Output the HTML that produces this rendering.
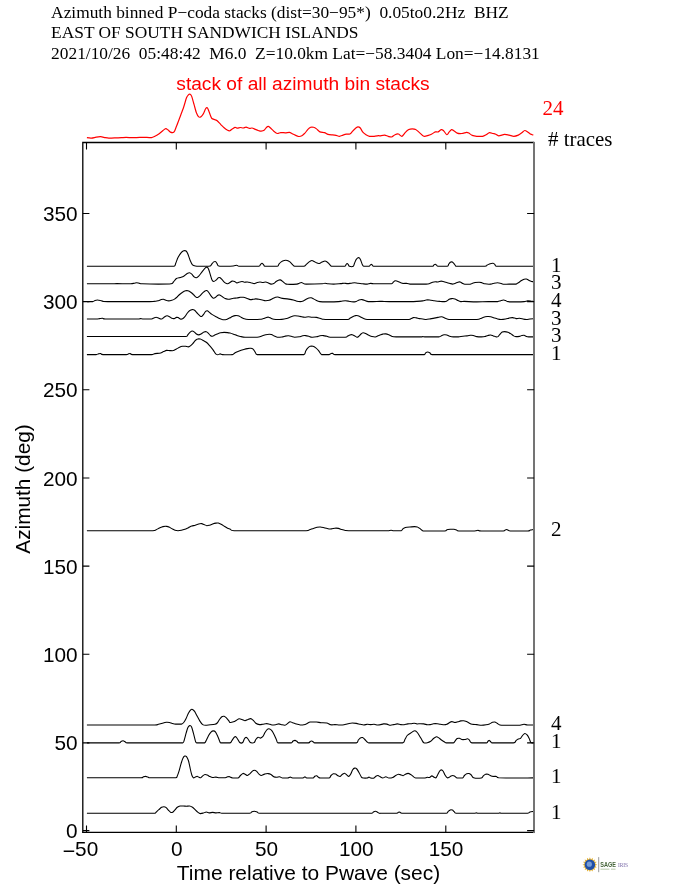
<!DOCTYPE html>
<html><head><meta charset="utf-8"><title>Azimuth binned P-coda stacks</title>
<style>html,body{margin:0;padding:0;background:#fff}body{width:694px;height:895px;position:relative;overflow:hidden;font-family:"Liberation Sans",sans-serif}</style></head>
<body>
<svg width="694" height="895" viewBox="0 0 694 895" style="position:absolute;left:0;top:0;will-change:transform;transform:translateZ(0)">
<rect width="694" height="895" fill="#fff"/>
<g fill="none" stroke="#000" stroke-width="1.08" stroke-linejoin="round" stroke-linecap="butt">
<path d="M86.9,266.3 L174.1,266.3 C175.7,265.9 175.2,264.4 175.7,263.3 C176.2,262.2 177.3,258.9 178.0,257.5 C178.7,256.1 180.3,253.8 181.0,252.9 C181.7,252.0 183.0,251.0 183.7,250.8 C184.4,250.6 185.6,250.6 186.1,251.0 C186.6,251.4 187.4,252.8 187.9,254.0 C188.4,255.2 189.6,259.1 190.2,260.5 C190.8,261.9 191.8,264.2 192.5,264.9 C193.2,265.6 193.6,265.8 195.3,266.0 C197.0,266.2 203.7,266.3 205.6,266.3 C207.5,266.3 209.5,266.3 210.3,266.0 C211.1,265.7 211.5,264.4 211.9,263.9 C212.3,263.4 213.2,262.2 213.7,261.9 C214.2,261.6 215.1,261.3 215.6,261.6 C216.1,261.9 216.8,263.3 217.2,263.9 C217.6,264.5 217.4,265.7 218.8,266.0 C220.2,266.3 225.7,266.3 227.6,266.3 C229.5,266.3 232.1,266.1 233.3,266.0 C234.5,265.9 236.2,265.3 236.8,265.3 C237.4,265.3 237.6,265.9 238.1,266.0 C238.6,266.1 238.1,266.3 240.4,266.3 L258.8,266.3 C260.4,266.1 260.0,265.0 260.4,264.6 C260.8,264.2 261.6,263.3 262.0,263.3 C262.4,263.3 263.3,264.5 263.7,264.9 C264.1,265.3 263.7,266.1 265.0,266.3 L277.3,266.3 C278.9,266.0 278.4,264.8 278.9,264.2 C279.4,263.6 280.5,262.4 281.2,261.9 C281.9,261.4 283.4,260.7 284.2,260.5 C285.0,260.3 286.5,260.3 287.2,260.5 C287.9,260.7 289.2,261.4 289.9,261.9 C290.5,262.4 291.6,263.6 292.2,264.2 C292.8,264.8 293.1,266.0 294.6,266.3 L303.8,266.3 C305.3,266.1 305.5,265.1 306.1,264.6 C306.8,264.1 308.1,262.6 308.8,262.1 C309.5,261.6 311.1,260.6 311.8,260.5 C312.5,260.4 313.5,261.1 314.1,261.4 C314.7,261.7 315.9,262.5 316.5,262.8 C317.1,263.1 318.2,263.5 318.8,263.5 C319.4,263.5 320.4,262.9 321.1,262.6 C321.8,262.3 323.4,261.4 324.1,261.2 C324.8,261.0 325.8,261.1 326.4,261.4 C327.0,261.7 328.1,262.7 328.7,263.3 C329.3,263.9 330.5,265.6 331.0,266.0 C331.5,266.4 331.0,266.3 332.6,266.3 L344.8,266.3 C346.0,266.1 345.7,265.0 346.0,264.6 C346.3,264.2 346.8,263.5 347.1,263.5 C347.4,263.5 348.0,264.2 348.3,264.6 C348.6,265.0 348.8,266.1 349.4,266.3 C350.0,266.5 352.6,266.7 353.3,266.3 C354.0,265.9 354.1,264.2 354.5,263.3 C354.9,262.4 355.6,260.3 356.1,259.6 C356.6,258.9 357.5,257.9 358.0,257.7 C358.5,257.5 359.2,257.8 359.6,258.2 C360.0,258.6 360.6,260.1 361.0,260.9 C361.4,261.7 361.9,263.7 362.3,264.4 C362.7,265.1 362.8,266.1 363.7,266.3 L369.0,266.3 C369.8,266.1 369.9,265.3 370.2,265.1 C370.5,264.9 371.0,264.4 371.3,264.4 C371.6,264.4 372.2,265.1 372.5,265.3 C372.8,265.5 372.5,266.2 373.6,266.3 L382.2,266.3 C383.6,266.3 382.2,266.3 384.6,266.3 L432.6,266.3 C433.9,266.1 433.5,265.2 433.9,264.9 C434.3,264.6 434.9,264.1 435.3,264.2 C435.7,264.3 436.3,265.0 436.7,265.3 C437.1,265.6 436.7,266.2 438.1,266.3 L447.3,266.3 C448.7,266.0 448.3,264.7 448.7,264.2 C449.1,263.7 449.9,262.6 450.3,262.3 C450.7,262.0 451.4,261.8 451.9,261.9 C452.4,262.0 453.3,262.8 453.8,263.3 C454.3,263.8 455.0,265.2 455.4,265.6 C455.8,266.0 455.4,266.2 456.8,266.3 L484.9,266.3 C487.2,266.1 486.5,265.4 487.2,265.1 C487.9,264.8 489.4,263.9 490.2,263.7 C491.0,263.5 492.4,263.2 493.0,263.3 C493.6,263.4 494.4,264.0 494.8,264.4 C495.2,264.8 494.8,266.1 496.4,266.3 L533.3,266.3"/>
<path d="M86.9,283.8 L110.0,283.8 C113.9,283.8 114.2,283.6 116.9,283.6 C119.6,283.6 128.5,283.9 130.7,283.8 C132.9,283.7 133.4,283.3 134.2,283.2 C135.0,283.1 135.8,282.7 136.5,282.7 C137.2,282.7 138.8,283.3 139.5,283.4 C140.2,283.5 139.7,283.7 142.2,283.8 C144.7,283.9 154.6,284.1 158.4,284.1 C162.2,284.1 169.2,284.1 171.1,283.8 C173.0,283.5 172.7,282.7 173.4,282.0 C174.1,281.3 175.5,279.1 176.4,278.5 C177.3,277.9 179.4,277.7 180.3,277.4 C181.2,277.1 182.8,276.7 183.7,276.2 C184.6,275.7 186.4,273.9 187.2,273.5 C188.0,273.1 188.9,272.7 189.5,272.8 C190.1,272.9 191.2,273.7 191.8,274.2 C192.4,274.7 193.5,276.4 194.1,276.9 C194.7,277.4 195.8,277.9 196.4,277.8 C197.0,277.7 197.9,277.0 198.7,276.2 C199.5,275.4 201.3,272.7 202.2,271.6 C203.1,270.5 204.9,268.3 205.6,267.7 C206.3,267.1 206.9,267.0 207.3,267.2 C207.7,267.4 208.2,268.3 208.6,269.3 C209.0,270.3 209.9,273.2 210.3,274.6 C210.7,276.0 211.5,278.8 211.9,279.7 C212.3,280.6 213.2,281.4 213.7,281.5 C214.2,281.6 215.4,280.7 216.0,280.2 C216.6,279.7 217.8,278.1 218.3,277.8 C218.8,277.5 219.7,277.5 220.2,277.8 C220.7,278.1 221.8,279.5 222.5,280.2 C223.2,280.9 224.5,282.4 225.2,282.9 C225.9,283.4 227.0,283.9 227.6,283.8 C228.2,283.7 229.3,282.9 229.9,282.5 C230.5,282.1 231.7,281.2 232.3,281.1 C232.9,281.0 234.0,281.3 234.6,281.5 C235.2,281.7 236.2,282.8 236.9,282.9 C237.6,283.0 239.0,282.2 239.7,282.0 C240.4,281.8 241.4,281.5 242.0,281.5 C242.6,281.5 243.6,282.1 244.3,282.2 C245.0,282.3 246.5,281.9 247.3,282.0 C248.1,282.1 249.8,282.5 250.7,282.7 C251.6,282.9 253.4,283.6 254.2,283.6 C255.0,283.6 256.4,282.7 257.2,282.5 C258.0,282.3 259.3,282.0 260.0,282.0 C260.7,282.0 262.0,282.5 262.7,282.5 C263.4,282.5 265.0,282.0 265.7,282.0 C266.4,282.0 267.3,282.4 268.0,282.7 C268.7,283.0 270.2,284.0 271.0,284.1 C271.8,284.2 273.1,283.7 273.8,283.4 C274.5,283.1 275.5,281.9 276.1,281.5 C276.7,281.1 277.9,280.4 278.4,280.2 C278.9,280.0 279.8,279.8 280.3,279.9 C280.8,280.0 282.0,280.8 282.6,281.3 C283.2,281.8 284.7,283.2 285.3,283.6 C285.9,284.0 286.1,284.2 287.6,284.3 C289.1,284.4 295.4,284.2 296.9,284.1 C298.4,284.0 298.6,283.4 299.2,283.2 C299.8,283.0 300.9,282.4 301.5,282.5 C302.1,282.6 303.2,283.4 303.8,283.6 C304.4,283.8 303.8,284.1 306.1,284.1 C308.5,284.1 319.7,283.9 322.2,283.8 C324.7,283.7 324.2,283.2 325.0,283.2 C325.8,283.2 326.9,283.7 328.0,283.8 C329.1,283.9 332.0,284.1 333.7,284.1 C335.4,284.1 339.3,283.7 340.7,283.6 C342.1,283.5 343.2,283.2 344.1,283.2 C345.0,283.2 346.7,283.6 347.6,283.6 C348.5,283.6 350.1,283.3 351.0,283.2 C351.9,283.1 353.6,282.7 354.5,282.7 C355.4,282.7 356.9,283.1 358.0,283.2 C359.1,283.3 361.4,283.7 362.6,283.8 C363.8,283.9 366.2,284.2 367.2,284.1 C368.2,284.0 369.7,283.4 370.6,283.4 C371.5,283.4 372.9,283.7 374.1,283.8 L379.9,283.8 C381.0,283.8 380.8,283.8 382.3,283.8 L391.5,283.8 C392.9,283.6 392.9,282.4 393.4,282.0 C393.9,281.6 394.7,280.9 395.2,280.8 C395.7,280.7 396.6,281.1 397.3,281.3 C398.0,281.5 399.5,282.2 400.3,282.5 C401.1,282.8 402.3,283.3 403.1,283.4 C403.9,283.5 405.6,283.3 406.5,283.4 C407.4,283.5 407.5,284.0 410.0,284.1 L426.1,284.1 C428.6,284.0 428.8,283.8 429.6,283.6 C430.4,283.4 431.9,282.4 432.6,282.2 C433.3,282.0 434.6,281.8 435.3,281.8 C436.0,281.8 437.3,282.1 438.1,282.0 C438.9,281.9 440.3,281.1 441.1,281.1 C441.9,281.1 443.3,281.6 444.1,281.8 C444.9,282.0 446.5,282.5 447.3,282.7 C448.1,282.9 449.6,283.4 450.3,283.6 C451.0,283.8 452.0,284.1 452.6,284.1 C453.2,284.1 454.2,283.6 454.9,283.4 C455.6,283.2 457.2,282.4 457.9,282.2 C458.6,282.0 459.6,281.8 460.2,282.0 C460.8,282.2 461.9,283.1 462.5,283.4 C463.1,283.7 463.9,284.2 464.8,284.3 L469.5,284.3 C470.5,284.2 471.5,283.6 472.2,283.4 C472.9,283.2 474.1,282.7 475.0,282.5 C475.9,282.3 478.2,282.2 479.1,282.2 C480.0,282.2 481.1,282.5 481.9,282.7 C482.7,282.9 483.8,283.6 484.9,283.8 C486.0,284.0 489.5,284.2 490.7,284.1 C491.9,284.0 493.2,283.4 494.1,283.2 C495.0,283.0 496.8,282.7 497.6,282.7 C498.4,282.7 499.6,283.0 500.3,283.2 C501.0,283.4 502.2,284.2 503.3,284.3 C504.4,284.4 507.4,284.1 509.1,284.1 L516.0,284.1 C517.2,283.9 517.6,283.1 518.3,282.7 C519.0,282.3 520.3,281.3 521.1,280.8 C521.9,280.3 523.4,279.4 524.1,279.2 C524.8,279.0 525.8,278.9 526.4,279.0 C527.0,279.1 528.1,279.9 528.7,280.2 C529.3,280.5 530.4,281.1 531.0,281.3 C531.6,281.5 533.0,281.7 533.3,281.8"/>
<path d="M86.9,301.6 L92.7,301.6 C93.8,301.5 94.4,300.7 95.0,300.5 C95.6,300.3 96.6,300.0 97.3,300.0 C98.0,300.0 99.5,300.3 100.3,300.5 C101.1,300.7 102.1,301.3 103.1,301.4 C104.1,301.5 103.1,301.6 107.7,301.6 L144.6,301.6 C150.6,301.6 152.0,301.5 153.8,301.4 C155.6,301.3 157.4,300.9 158.4,300.7 C159.4,300.5 160.5,299.8 161.2,299.6 C161.9,299.4 162.9,299.2 163.5,299.3 C164.1,299.4 165.1,300.1 165.8,300.3 C166.5,300.5 168.0,300.9 168.8,300.9 C169.6,300.9 171.1,300.5 171.8,300.3 C172.5,300.1 173.8,299.5 174.5,299.1 C175.2,298.7 176.1,297.9 176.8,297.3 C177.5,296.7 178.8,295.2 179.6,294.5 C180.4,293.8 181.8,292.7 182.6,292.2 C183.4,291.7 184.9,291.0 185.6,290.8 C186.3,290.6 187.2,290.6 187.9,290.8 C188.6,291.0 190.0,291.7 190.7,292.2 C191.4,292.7 192.8,293.9 193.4,294.5 C194.1,295.1 195.2,296.4 195.7,296.8 C196.2,297.2 197.1,297.6 197.6,297.5 C198.1,297.4 199.2,296.5 199.9,295.9 C200.6,295.3 202.0,293.5 202.7,292.9 C203.4,292.3 204.5,291.3 205.0,291.0 C205.5,290.7 206.3,290.4 206.8,290.6 C207.3,290.8 208.1,291.5 208.6,292.2 C209.1,292.9 210.4,295.1 211.0,295.9 C211.6,296.7 212.7,298.0 213.3,298.2 C213.9,298.4 215.0,297.7 215.6,297.3 C216.2,296.9 217.4,295.5 217.9,295.2 C218.4,294.9 219.1,294.8 219.7,295.0 C220.3,295.2 221.8,296.3 222.5,296.8 C223.2,297.3 224.5,298.3 225.2,298.6 C225.9,298.9 227.4,299.2 228.0,299.3 C228.6,299.4 229.3,299.2 230.0,299.1 C230.7,299.0 232.6,298.3 233.5,298.2 C234.4,298.1 236.0,298.1 236.9,298.0 C237.8,297.9 239.6,297.4 240.4,297.3 C241.2,297.2 242.6,297.2 243.4,297.3 C244.2,297.4 245.7,297.9 246.6,298.2 C247.5,298.5 249.5,299.5 250.3,299.6 C251.1,299.7 252.4,299.4 253.1,299.3 C253.8,299.2 255.1,298.9 255.8,298.9 C256.5,298.9 258.0,299.2 258.8,299.3 C259.6,299.4 261.4,299.8 262.3,300.0 C263.2,300.2 264.8,300.7 265.7,300.7 C266.6,300.7 268.3,300.6 269.2,300.3 C270.1,300.0 271.9,299.0 272.7,298.6 C273.5,298.2 274.9,297.5 275.6,297.3 C276.3,297.1 277.3,296.9 278.0,297.0 C278.7,297.1 279.9,297.8 280.7,298.0 C281.5,298.2 283.1,298.5 284.2,298.6 C285.3,298.7 287.6,298.9 288.8,299.1 C290.0,299.3 292.3,299.7 293.4,300.0 C294.5,300.3 296.0,301.0 296.9,301.2 C297.8,301.4 299.5,301.6 300.3,301.6 C301.1,301.6 302.5,301.2 303.3,300.9 C304.1,300.6 305.4,299.7 306.1,299.3 C306.8,298.9 308.1,298.2 308.8,298.0 C309.5,297.8 310.6,297.6 311.2,297.7 C311.8,297.8 312.8,298.5 313.5,298.9 C314.2,299.3 315.7,300.1 316.5,300.5 C317.3,300.9 318.6,301.4 319.9,301.6 C321.2,301.8 325.0,301.9 326.8,301.9 L333.7,301.9 C335.5,301.8 339.2,301.6 340.7,301.4 C342.2,301.2 344.3,300.7 345.3,300.7 C346.3,300.7 347.7,301.0 348.7,301.2 C349.7,301.4 352.3,301.9 353.3,301.9 C354.3,301.9 355.5,301.6 356.3,301.4 C357.1,301.2 358.4,300.2 359.1,300.0 C359.8,299.8 361.1,299.5 361.9,299.6 C362.7,299.7 364.1,300.2 364.9,300.5 C365.7,300.8 367.3,301.5 368.3,301.6 L372.9,301.6 C374.4,301.6 378.7,301.4 379.9,301.4 C381.1,301.4 381.1,301.4 382.3,301.4 C383.5,301.4 385.6,301.6 389.2,301.6 L410.0,301.6 C413.6,301.6 415.2,301.5 416.9,301.4 C418.6,301.3 421.5,301.1 422.7,300.9 C423.9,300.7 425.2,300.1 426.1,300.0 C427.0,299.9 428.5,299.9 429.6,300.0 C430.7,300.1 432.9,300.5 434.2,300.7 C435.5,300.9 438.5,301.3 439.9,301.4 C441.3,301.5 443.7,301.7 444.6,301.6 C445.5,301.5 446.3,301.2 446.9,300.9 C447.5,300.6 448.6,299.6 449.2,299.3 C449.8,299.0 451.2,298.7 451.9,298.6 C452.6,298.5 454.1,298.7 454.9,298.9 C455.7,299.1 457.1,300.1 457.9,300.5 C458.7,300.9 459.9,301.5 460.7,301.6 C461.5,301.7 463.0,301.4 464.1,301.4 C465.2,301.4 467.1,301.5 468.8,301.6 C470.5,301.7 474.3,301.9 476.8,301.9 C479.3,301.9 485.7,301.6 488.4,301.6 L497.6,301.6 C499.1,301.5 499.6,301.1 500.3,300.9 C501.0,300.7 502.6,300.1 503.3,300.0 C504.0,299.9 505.0,300.3 505.6,300.5 C506.2,300.7 506.3,301.4 508.0,301.6 C509.7,301.8 516.2,301.9 518.3,301.9 C520.4,301.9 522.9,301.7 524.1,301.6 C525.3,301.5 526.7,301.0 527.6,300.9 C528.5,300.8 530.3,301.1 531.0,301.2 C531.7,301.3 533.0,301.4 533.3,301.4"/>
<path d="M86.9,319.0 L96.1,319.0 C97.8,318.9 98.8,318.7 99.6,318.6 C100.4,318.5 101.8,318.2 102.6,318.3 C103.4,318.4 102.6,318.9 105.4,319.0 L137.6,319.0 C140.4,318.9 139.6,318.6 140.4,318.6 C141.2,318.6 142.0,318.9 143.4,319.0 L151.5,319.0 C152.9,318.9 153.2,318.1 153.8,317.9 C154.4,317.7 155.5,317.2 156.1,317.2 C156.7,317.2 157.8,317.7 158.4,317.9 C159.0,318.1 160.2,318.9 160.7,319.0 C161.2,319.1 162.0,318.9 162.5,318.6 C163.0,318.3 164.2,317.1 164.8,316.7 C165.4,316.3 166.5,315.8 167.1,315.8 C167.7,315.8 168.9,316.4 169.5,316.7 C170.1,317.0 171.2,318.1 171.8,318.3 C172.4,318.5 173.5,318.7 174.1,318.6 C174.7,318.5 175.9,317.5 176.4,317.4 C176.9,317.3 177.7,317.4 178.2,317.6 C178.7,317.8 179.7,318.8 180.3,319.0 C180.9,319.2 182.0,319.1 182.6,318.8 C183.2,318.5 184.3,317.4 184.9,316.7 C185.5,316.0 186.6,314.1 187.2,313.3 C187.8,312.5 188.8,311.2 189.5,310.7 C190.2,310.2 191.6,309.7 192.3,309.6 C193.0,309.5 194.0,309.9 194.6,310.3 C195.2,310.7 196.4,312.3 197.1,313.0 C197.8,313.7 199.3,315.3 199.9,315.8 C200.5,316.3 201.2,316.7 201.7,316.5 C202.2,316.3 203.1,315.1 203.6,314.4 C204.1,313.7 205.1,311.9 205.6,311.4 C206.1,310.9 206.8,310.6 207.3,310.7 C207.8,310.8 208.5,311.6 209.1,312.1 C209.7,312.6 211.0,313.8 211.9,314.4 C212.8,315.0 215.0,316.2 216.0,316.7 C217.0,317.2 218.6,318.2 219.5,318.6 C220.4,319.0 222.0,319.6 222.9,319.7 C223.8,319.8 225.6,319.7 226.4,319.5 C227.2,319.3 228.9,318.1 229.4,317.9 C229.9,317.7 229.6,318.1 230.0,317.9 C230.4,317.7 231.6,316.8 232.3,316.5 C233.0,316.2 234.3,315.7 235.1,315.6 C235.9,315.5 237.3,315.6 238.1,315.8 C238.9,316.0 240.3,316.8 241.1,317.2 C241.9,317.6 243.4,318.5 244.3,318.8 C245.2,319.1 247.1,319.4 248.4,319.5 L254.2,319.5 C255.7,319.5 258.8,319.4 260.0,319.3 C261.2,319.2 262.6,318.8 263.4,318.6 C264.2,318.4 265.7,317.6 266.4,317.4 C267.1,317.2 268.1,317.1 268.7,317.2 C269.3,317.3 270.3,318.0 271.0,318.3 C271.7,318.6 272.7,319.1 273.8,319.3 C274.9,319.5 278.2,319.5 279.6,319.5 C281.0,319.5 283.2,319.2 284.2,319.0 C285.2,318.8 286.7,318.6 287.6,318.3 C288.5,318.0 290.2,317.0 291.1,316.7 C292.0,316.4 293.7,315.9 294.6,315.8 C295.5,315.7 297.1,315.9 298.0,316.0 C298.9,316.1 300.6,316.5 301.5,316.7 C302.4,316.9 304.0,317.2 304.9,317.2 C305.8,317.2 307.5,316.7 308.4,316.7 C309.3,316.7 310.7,317.1 311.8,317.2 C312.9,317.3 315.4,317.3 316.5,317.4 C317.6,317.5 319.0,318.1 319.9,318.3 C320.8,318.5 322.2,319.1 323.4,319.3 C324.6,319.5 326.0,319.5 329.1,319.5 L347.6,319.5 C349.9,319.3 349.2,318.7 349.9,318.3 C350.6,317.9 352.0,317.1 352.7,316.7 C353.4,316.3 354.9,315.7 355.6,315.6 C356.3,315.5 357.3,315.6 358.0,315.8 C358.7,316.0 360.3,316.8 361.0,317.2 C361.7,317.6 362.9,318.3 363.7,318.6 C364.5,318.9 365.1,319.4 367.2,319.5 L379.9,319.5 C381.9,319.5 379.9,319.5 382.3,319.5 L408.8,319.5 C411.1,319.4 410.5,318.8 411.1,318.6 C411.7,318.4 412.7,317.7 413.4,317.6 C414.1,317.5 415.6,317.8 416.4,317.9 C417.2,318.0 418.4,318.5 419.2,318.6 C420.0,318.7 421.8,318.9 422.7,319.0 C423.6,319.1 425.2,319.5 426.1,319.5 C427.0,319.5 428.5,319.2 429.6,319.0 C430.7,318.8 433.0,318.3 434.2,318.1 C435.4,317.9 437.8,317.4 438.8,317.2 C439.8,317.0 441.0,316.6 441.8,316.7 C442.6,316.8 443.9,317.6 444.6,317.9 C445.3,318.2 446.4,318.8 447.3,319.0 C448.2,319.2 447.7,319.4 451.5,319.5 L476.8,319.5 C480.3,319.4 479.4,318.9 480.3,318.6 C481.2,318.3 482.8,317.5 483.7,317.2 C484.6,316.9 486.3,316.6 487.2,316.5 C488.1,316.4 489.8,316.5 490.7,316.7 C491.6,316.9 493.2,317.6 494.1,317.9 C495.0,318.2 496.7,318.8 497.6,319.0 C498.5,319.2 500.0,319.5 501.0,319.5 C502.0,319.5 504.5,319.2 505.6,319.0 C506.7,318.8 508.2,318.3 509.1,318.1 C510.0,317.9 511.7,317.5 512.6,317.6 C513.5,317.7 515.1,318.5 516.0,318.6 C516.9,318.7 518.6,318.2 519.5,318.3 C520.4,318.4 522.0,318.8 522.9,319.0 C523.8,319.2 525.5,319.5 526.4,319.5 C527.3,319.5 529.0,319.1 529.9,319.0 C530.8,318.9 532.9,318.8 533.3,318.8"/>
<path d="M86.9,336.5 L186.1,336.5 C187.9,336.3 187.4,335.3 187.9,334.7 C188.4,334.1 189.6,332.6 190.2,332.1 C190.8,331.6 191.8,331.0 192.3,331.0 C192.8,331.0 193.6,331.5 194.1,331.9 C194.6,332.3 195.8,333.6 196.4,334.0 C197.0,334.4 198.1,334.9 198.7,334.9 C199.3,334.9 200.3,334.4 201.0,334.0 C201.7,333.6 203.3,332.4 204.0,332.1 C204.7,331.8 205.8,331.6 206.3,331.7 C206.8,331.8 207.7,332.6 208.2,333.1 C208.7,333.6 209.8,335.0 210.3,335.4 C210.8,335.8 211.4,336.3 211.9,336.3 C212.4,336.3 213.5,335.7 214.2,335.4 C214.9,335.1 216.4,334.3 217.2,334.0 C218.0,333.7 219.7,333.0 220.6,332.8 C221.5,332.6 223.2,332.4 224.1,332.4 C225.0,332.4 226.8,332.5 227.6,332.6 C228.4,332.7 229.2,332.9 230.0,333.1 C230.8,333.3 232.6,333.9 233.5,334.2 C234.4,334.5 236.0,335.1 236.9,335.4 C237.8,335.7 239.3,336.3 240.4,336.5 C241.5,336.7 243.3,337.1 245.0,337.2 L253.1,337.2 C254.9,337.2 257.6,337.2 258.8,337.0 C260.0,336.8 261.4,336.1 262.3,335.8 C263.2,335.5 264.8,334.9 265.7,334.7 C266.6,334.5 268.4,334.2 269.2,334.2 C270.0,334.2 270.8,334.2 271.5,334.4 C272.2,334.6 273.5,335.7 274.3,336.1 C275.1,336.5 276.3,337.1 277.3,337.2 C278.3,337.3 280.9,337.1 281.9,337.0 C282.9,336.9 284.4,336.3 285.3,336.1 C286.2,335.9 288.0,335.7 288.8,335.8 C289.6,335.9 291.0,336.3 291.8,336.5 C292.6,336.7 293.6,337.2 294.6,337.2 C295.6,337.2 298.2,337.0 299.2,336.8 C300.2,336.6 301.8,336.0 302.6,335.8 C303.4,335.6 304.8,335.5 305.6,335.6 C306.4,335.7 308.0,336.1 308.8,336.3 C309.6,336.5 310.8,337.1 311.8,337.2 C312.8,337.3 315.4,337.0 316.5,336.8 C317.6,336.6 319.0,336.0 319.9,335.8 C320.8,335.6 322.5,335.5 323.4,335.6 C324.3,335.7 325.9,336.1 326.8,336.3 C327.7,336.5 327.9,337.1 330.3,337.2 L345.3,337.2 C347.5,337.1 347.0,336.4 347.6,336.1 C348.2,335.8 349.3,335.1 349.9,334.9 C350.5,334.7 351.6,334.6 352.2,334.7 C352.8,334.8 353.9,335.5 354.5,335.8 C355.1,336.1 356.3,337.1 356.8,337.2 C357.3,337.3 358.1,336.9 358.6,336.5 C359.1,336.1 360.4,334.5 361.0,334.0 C361.6,333.5 362.4,332.9 363.0,332.8 C363.6,332.7 364.9,333.2 365.6,333.5 C366.3,333.8 367.5,334.7 368.3,335.1 C369.1,335.5 370.9,336.3 371.8,336.5 C372.7,336.7 374.4,337.1 375.2,337.0 C376.0,336.9 377.4,336.1 378.0,335.8 C378.6,335.5 379.4,335.2 380.0,335.0 C380.6,334.8 382.0,334.2 382.8,334.1 C383.6,334.0 385.0,333.8 385.8,333.9 C386.6,334.0 388.0,334.5 388.8,334.8 C389.6,335.1 391.1,336.1 392.0,336.4 C392.9,336.7 392.4,336.8 396.1,336.9 L420.3,336.9 C422.7,336.9 421.9,336.6 422.7,336.6 C423.5,336.6 424.0,336.9 426.1,336.9 L438.8,336.9 C440.8,336.8 440.4,336.2 441.1,335.9 C441.8,335.6 443.3,334.9 444.1,334.8 C444.9,334.7 446.2,334.8 446.9,335.0 C447.6,335.2 448.8,336.0 449.6,336.2 C450.4,336.4 452.2,336.8 453.3,336.9 L458.4,336.9 C459.7,336.8 461.9,336.3 463.0,336.2 C464.1,336.1 466.1,336.0 467.1,335.9 C468.1,335.8 469.6,335.4 470.4,335.3 C471.2,335.2 472.6,335.3 473.4,335.5 C474.2,335.7 475.8,336.4 476.8,336.6 C477.8,336.8 480.3,336.9 481.4,336.9 C482.5,336.9 484.1,336.8 484.9,336.6 C485.7,336.4 487.1,335.7 487.9,335.5 C488.7,335.3 490.0,334.9 490.7,335.0 C491.4,335.1 492.7,335.7 493.4,335.9 C494.1,336.1 495.8,336.8 496.4,336.9 C497.0,337.0 497.5,336.9 498.0,336.6 C498.5,336.3 499.4,334.9 499.9,334.3 C500.4,333.7 501.6,332.4 502.2,332.0 C502.8,331.6 503.7,331.6 504.5,331.6 C505.3,331.6 507.2,332.0 508.0,332.3 C508.8,332.6 510.3,333.4 511.0,333.9 C511.7,334.4 513.1,335.5 513.7,335.9 C514.4,336.3 515.2,336.5 516.0,336.6 C516.8,336.7 518.7,336.5 519.5,336.4 C520.3,336.3 521.2,335.6 521.8,335.5 C522.4,335.4 523.5,335.2 524.1,335.3 C524.7,335.4 525.8,336.2 526.4,336.4 C527.0,336.6 527.8,336.8 528.7,336.9 L533.3,336.9"/>
<path d="M86.9,354.6 L96.1,354.6 C97.6,354.5 97.8,354.0 98.4,353.9 C99.0,353.8 100.1,353.5 100.7,353.6 C101.3,353.7 100.7,354.5 103.1,354.6 L126.1,354.6 C128.4,354.5 127.9,354.0 128.4,353.9 C128.9,353.8 129.8,353.5 130.3,353.6 C130.8,353.7 130.3,354.5 132.6,354.6 L151.5,354.6 C153.8,354.5 153.1,354.1 153.8,353.9 C154.5,353.7 156.3,353.5 157.2,353.4 C158.1,353.3 159.9,353.1 160.7,352.9 C161.5,352.7 162.7,351.9 163.5,351.6 C164.3,351.3 165.7,350.5 166.5,350.4 C167.3,350.3 169.0,350.6 169.9,350.6 C170.8,350.6 172.6,350.8 173.4,350.6 C174.2,350.4 175.6,349.4 176.4,349.0 C177.2,348.6 178.8,347.6 179.6,347.2 C180.4,346.8 181.8,346.4 182.6,346.3 C183.4,346.2 184.8,346.2 185.6,346.3 C186.4,346.4 187.7,347.0 188.4,346.9 C189.1,346.8 190.1,346.1 190.7,345.6 C191.3,345.1 192.4,344.0 193.0,343.3 C193.6,342.6 194.7,341.0 195.3,340.5 C195.9,340.0 196.9,339.3 197.6,339.1 C198.2,338.9 199.6,338.9 200.3,339.1 C201.0,339.3 202.5,340.1 203.3,340.5 C204.1,340.9 205.5,341.7 206.3,342.3 C207.1,342.9 208.4,344.3 209.1,345.1 C209.8,345.9 211.2,347.5 211.9,348.3 C212.6,349.1 213.7,350.8 214.2,351.6 C214.7,352.4 215.5,353.7 216.0,354.1 C216.5,354.5 217.4,354.8 217.9,354.8 C218.4,354.8 219.6,353.9 220.2,353.9 C220.8,353.9 221.5,354.5 222.5,354.6 C223.5,354.7 226.3,354.8 227.6,354.8 C228.9,354.8 231.5,354.6 232.2,354.6 C232.8,354.6 232.4,354.8 232.8,354.6 C233.2,354.4 234.3,353.2 235.1,352.7 C235.9,352.2 238.1,351.3 239.2,350.9 C240.3,350.5 242.7,349.8 243.8,349.5 C244.9,349.2 246.4,348.8 247.3,348.6 C248.2,348.4 249.9,348.2 250.7,348.3 C251.5,348.4 252.5,348.7 253.1,349.2 C253.7,349.7 254.9,351.8 255.4,352.5 C255.9,353.2 255.4,354.3 257.2,354.6 L303.8,354.6 C305.6,354.2 305.1,352.2 305.6,351.3 C306.1,350.4 307.3,348.5 307.9,347.9 C308.5,347.2 309.5,346.5 310.2,346.3 C310.9,346.1 312.3,346.1 313.0,346.3 C313.7,346.5 315.0,347.3 315.8,347.9 C316.6,348.5 318.1,350.0 318.8,350.9 C319.5,351.8 320.2,354.1 321.5,354.6 L329.1,354.6 C330.3,354.5 330.5,353.8 331.0,353.6 C331.5,353.4 332.3,353.3 332.8,353.4 C333.3,353.5 332.8,354.4 334.9,354.6 L382.2,354.6 C384.6,354.6 382.2,354.6 384.6,354.6 L424.3,354.6 C425.6,354.4 425.2,353.2 425.6,352.9 C426.0,352.6 427.2,352.0 427.7,352.0 C428.2,352.0 429.2,352.4 429.8,352.7 C430.4,353.0 429.8,354.4 432.1,354.6 L533.3,354.6"/>
<path d="M86.9,530.7 L152.6,530.7 C156.1,530.6 155.2,530.2 156.1,529.8 C157.0,529.4 158.6,528.4 159.5,528.0 C160.4,527.6 162.1,526.8 163.0,526.6 C163.9,526.4 165.7,526.3 166.5,526.4 C167.3,526.5 168.8,527.0 169.5,527.3 C170.2,527.6 171.5,528.5 172.2,528.9 C172.9,529.3 174.2,530.1 175.0,530.3 C175.8,530.5 177.2,530.7 178.0,530.7 C178.8,530.7 180.5,530.5 181.4,530.3 C182.3,530.1 184.0,529.6 184.9,529.3 C185.8,529.0 187.5,528.1 188.4,527.7 C189.3,527.3 190.9,526.4 191.8,526.1 C192.7,525.8 194.4,525.5 195.3,525.2 C196.2,524.9 197.9,524.2 198.7,524.0 C199.5,523.8 200.8,523.5 201.5,523.6 C202.2,523.7 203.3,524.2 204.0,524.5 C204.7,524.8 206.1,525.6 206.8,525.7 C207.5,525.8 208.8,525.4 209.6,525.2 C210.4,525.0 211.8,524.3 212.6,524.0 C213.4,523.7 215.3,523.2 216.0,523.1 C216.7,523.0 217.6,522.9 218.3,523.1 C219.0,523.3 220.3,523.9 221.1,524.3 C221.9,524.7 223.3,525.6 224.1,526.1 C224.9,526.6 226.8,527.8 227.6,528.2 C228.4,528.6 229.2,528.8 230.0,529.1 C230.8,529.4 230.0,530.5 234.1,530.7 L306.1,530.7 C309.5,530.6 308.5,530.1 309.5,529.8 C310.5,529.5 312.5,528.7 313.5,528.4 C314.5,528.1 316.2,527.5 317.1,527.3 C318.0,527.1 319.5,526.9 320.4,527.0 C321.3,527.1 323.1,527.5 324.1,527.7 C325.1,527.9 327.1,528.5 328.0,528.7 C328.9,528.9 330.5,529.0 331.4,528.9 C332.3,528.8 334.0,528.3 334.9,528.2 C335.8,528.1 337.5,528.2 338.4,528.4 C339.3,528.6 340.9,529.3 341.8,529.6 C342.7,529.9 344.4,530.4 345.3,530.5 C346.2,530.6 345.3,530.7 348.7,530.7 L382.2,530.7 L388.1,530.7 C389.3,530.6 390.4,530.3 391.1,530.3 C391.8,530.3 392.5,530.6 393.8,530.7 L401.2,530.7 C402.4,530.4 402.6,529.1 403.1,528.7 C403.6,528.3 404.5,527.7 405.4,527.5 C406.3,527.3 408.8,527.1 410.0,527.0 C411.2,526.9 413.7,526.6 414.6,526.6 C415.5,526.6 416.6,526.8 417.3,527.0 C418.0,527.2 419.1,528.0 419.7,528.4 C420.3,528.8 421.5,530.0 422.0,530.3 C422.5,530.6 422.0,530.9 423.3,531.0 L444.6,531.0 C446.9,530.8 446.2,530.0 446.9,529.8 C447.6,529.6 449.4,529.4 450.3,529.3 C451.2,529.2 453.0,529.2 453.8,529.3 C454.6,529.4 455.9,529.8 456.5,530.0 C457.1,530.2 456.5,530.9 458.8,531.0 L474.5,531.0 C477.0,530.9 477.1,530.3 478.0,530.3 C478.9,530.3 478.1,530.9 481.4,531.0 L503.3,531.0 C505.2,530.9 504.7,530.2 505.2,530.0 C505.7,529.8 506.4,529.5 506.8,529.6 C507.2,529.7 508.1,530.3 508.6,530.5 C509.1,530.7 508.6,530.9 510.3,531.0 L527.6,531.0 C530.2,530.9 529.6,530.2 530.3,530.0 C531.0,529.8 532.9,529.7 533.3,529.6"/>
<path d="M86.9,725.0 L154.9,725.0 C158.4,724.9 157.4,724.5 158.4,724.3 C159.4,724.1 161.4,723.5 162.5,723.2 C163.6,722.9 165.6,722.4 166.5,722.3 C167.4,722.2 168.8,722.4 169.5,722.5 C170.2,722.6 171.4,723.2 172.2,723.4 C173.0,723.6 174.5,724.0 175.7,724.1 L181.4,724.1 C182.4,723.9 183.1,723.2 183.7,722.5 C184.3,721.8 185.5,719.6 186.1,718.4 C186.7,717.2 187.8,714.4 188.4,713.3 C189.0,712.2 190.2,710.3 190.7,709.8 C191.2,709.3 192.0,709.2 192.5,709.4 C193.0,709.6 194.0,710.5 194.6,711.4 C195.2,712.3 196.4,714.7 197.1,716.0 C197.8,717.3 199.2,720.0 199.9,721.1 C200.6,722.2 202.0,724.1 202.7,724.6 C203.4,725.1 204.6,725.3 205.6,725.3 C206.6,725.3 209.1,724.9 210.3,724.8 C211.5,724.7 214.0,724.5 214.9,724.3 C215.8,724.1 216.6,723.6 217.2,723.0 C217.8,722.4 218.9,720.3 219.5,719.5 C220.1,718.7 221.2,717.1 221.8,716.7 C222.4,716.3 223.5,716.1 224.1,716.3 C224.7,716.5 225.8,717.3 226.4,717.9 C227.0,718.5 228.2,720.1 228.7,720.7 C229.2,721.3 229.4,722.4 230.0,722.5 C230.6,722.6 232.7,722.1 233.5,721.8 C234.3,721.5 235.8,720.6 236.5,720.2 C237.2,719.8 238.5,718.9 239.2,718.8 C239.9,718.7 241.2,719.3 242.0,719.5 C242.8,719.7 244.2,720.7 245.0,720.7 C245.8,720.7 247.3,719.8 248.0,719.5 C248.7,719.2 250.0,718.5 250.7,718.6 C251.4,718.7 252.4,719.6 253.1,720.2 C253.8,720.8 255.0,722.6 255.8,723.2 C256.6,723.8 258.6,724.5 259.5,724.6 C260.4,724.7 261.9,724.4 262.7,724.3 C263.5,724.2 264.9,723.8 265.7,723.7 C266.5,723.6 267.9,723.7 268.7,723.9 C269.5,724.1 271.1,724.9 272.0,725.0 C272.9,725.1 274.7,724.9 275.6,724.8 C276.5,724.7 278.1,723.9 278.9,723.9 C279.7,723.9 281.1,724.6 281.9,724.8 C282.7,725.0 284.2,725.4 284.9,725.3 C285.6,725.2 286.6,724.4 287.2,723.9 C287.8,723.4 289.2,722.0 289.9,721.8 C290.6,721.6 291.9,722.4 292.7,722.7 C293.5,723.0 295.4,723.8 296.4,724.1 C297.4,724.4 299.3,724.9 300.3,725.0 C301.3,725.1 302.9,725.0 303.8,724.8 C304.7,724.6 306.4,723.8 307.2,723.4 C308.0,723.0 309.0,722.2 310.2,722.0 L316.5,722.0 C317.9,722.1 319.8,722.6 321.1,722.7 C322.4,722.8 325.5,722.7 326.8,723.0 C328.1,723.3 329.9,724.6 331.0,724.8 C332.1,725.0 333.8,724.6 334.9,724.6 C336.0,724.6 338.3,725.0 339.5,725.0 C340.7,725.0 343.0,725.0 344.1,724.8 C345.2,724.6 346.9,723.9 348.0,723.7 C349.1,723.5 351.1,723.0 352.2,723.0 C353.3,723.0 355.2,723.2 356.3,723.4 C357.4,723.6 359.3,724.1 360.3,724.3 C361.3,724.5 362.8,725.0 363.7,725.0 C364.6,725.0 366.3,724.4 367.2,724.3 C368.1,724.2 369.7,724.6 370.6,724.6 C371.5,724.6 373.2,724.2 374.1,724.3 C375.0,724.4 376.8,724.9 377.6,725.0 C378.4,725.1 379.2,724.9 380.0,724.8 C380.8,724.7 382.6,724.0 383.5,723.9 C384.4,723.8 386.0,723.9 386.9,724.1 C387.8,724.3 389.5,725.2 390.4,725.3 C391.3,725.4 392.9,724.8 393.8,724.6 C394.7,724.4 396.4,723.9 397.3,723.9 C398.2,723.9 399.8,724.5 400.7,724.6 C401.6,724.7 403.3,724.9 404.2,724.8 C405.1,724.7 406.8,724.0 407.7,723.9 C408.6,723.8 410.3,723.8 411.1,723.7 C411.9,723.6 413.3,723.2 414.1,723.2 C414.9,723.2 416.1,723.8 416.9,723.9 C417.7,724.0 419.4,723.7 420.3,723.7 C421.2,723.7 422.9,723.8 423.8,723.9 C424.7,724.0 426.5,724.7 427.3,724.8 C428.1,724.9 429.5,724.7 430.3,724.6 C431.1,724.5 432.6,723.8 433.5,723.7 C434.4,723.6 436.3,723.6 437.2,723.7 C438.1,723.8 439.5,724.2 440.4,724.3 C441.3,724.4 443.3,724.8 444.1,724.8 C444.9,724.8 446.2,724.6 446.9,724.3 C447.6,724.0 449.0,722.9 449.6,722.5 C450.2,722.1 451.2,721.6 451.9,721.6 C452.6,721.6 454.1,722.5 454.9,722.5 C455.7,722.5 457.1,722.0 457.9,721.8 C458.7,721.6 460.0,721.0 460.7,720.9 C461.4,720.8 462.7,720.6 463.5,720.7 C464.3,720.8 465.7,721.3 466.5,721.6 C467.3,721.9 468.8,722.8 469.5,723.2 C470.2,723.6 471.3,724.1 472.2,724.3 C473.1,724.5 475.6,724.5 476.8,724.6 C478.0,724.7 480.2,725.3 481.4,725.3 C482.6,725.3 485.0,725.0 486.1,724.8 C487.2,724.6 488.7,724.2 489.5,723.9 C490.3,723.6 491.8,722.5 492.5,722.3 C493.2,722.1 494.2,721.9 494.8,722.0 C495.4,722.1 496.4,722.8 497.1,723.2 C497.8,723.6 498.9,724.7 499.9,725.0 C500.9,725.3 502.1,725.3 504.5,725.3 L518.3,725.3 C520.5,725.2 521.0,724.9 521.8,724.8 C522.6,724.7 523.3,724.3 524.1,724.3 C524.9,724.3 526.4,724.9 527.6,725.0 L533.3,725.0"/>
<path d="M86.9,742.9 L119.2,742.9 C121.0,742.7 120.5,741.8 121.0,741.5 C121.5,741.2 122.6,740.8 123.1,740.8 C123.6,740.8 124.6,741.5 125.2,741.8 C125.8,742.1 125.2,742.8 127.5,742.9 L182.6,742.9 C184.2,742.5 183.7,741.5 184.2,740.2 C184.7,738.9 185.6,734.9 186.1,733.2 C186.6,731.5 187.4,728.5 187.9,727.5 C188.4,726.5 189.2,725.7 189.7,725.6 C190.2,725.5 191.1,726.0 191.6,727.0 C192.1,728.0 192.9,731.4 193.4,733.2 C193.9,735.0 194.9,739.3 195.3,740.6 C195.7,741.9 195.5,742.6 196.7,742.9 L204.5,742.9 C205.7,742.5 205.8,741.2 206.3,740.2 C206.8,739.2 208.0,736.6 208.6,735.5 C209.2,734.4 210.4,732.7 211.0,732.1 C211.6,731.5 212.7,730.9 213.3,730.9 C213.9,730.9 215.0,731.3 215.6,732.1 C216.2,732.9 217.3,735.4 217.9,736.7 C218.5,738.0 219.5,741.0 219.9,741.8 C220.3,742.6 219.9,742.8 221.1,742.9 L229.9,742.9 C231.3,742.6 231.3,741.5 231.8,740.8 C232.3,740.1 233.6,737.9 234.1,737.4 C234.6,736.9 235.3,736.5 235.8,736.7 C236.3,736.9 237.1,738.2 237.6,739.0 C238.1,739.8 239.0,742.0 239.7,742.5 C240.4,743.0 242.1,743.0 242.7,742.5 C243.3,742.0 243.9,739.7 244.3,739.0 C244.7,738.3 245.6,737.4 246.1,737.4 C246.6,737.4 247.5,738.3 248.0,739.0 C248.5,739.7 249.5,742.0 250.3,742.5 C251.1,743.0 253.5,742.9 254.2,742.5 C254.9,742.1 255.3,740.2 255.8,739.5 C256.3,738.8 257.5,737.4 258.1,737.2 C258.7,737.0 259.8,738.2 260.4,738.1 C261.0,738.0 262.1,737.4 262.7,736.7 C263.3,736.0 264.4,733.5 265.0,732.5 C265.6,731.5 266.7,729.8 267.3,729.3 C267.9,728.8 269.1,728.7 269.7,728.9 C270.3,729.1 271.4,730.1 272.0,730.9 C272.6,731.7 273.7,733.7 274.3,734.9 C274.9,736.1 276.1,739.2 276.6,740.2 C277.1,741.2 276.6,742.5 278.0,742.9 L291.1,742.9 C292.7,742.7 292.2,741.6 292.7,741.3 C293.2,741.0 294.5,740.4 295.0,740.4 C295.5,740.4 296.4,741.0 296.9,741.3 C297.4,741.6 297.2,742.7 298.7,742.9 L308.4,742.9 C309.9,742.7 309.8,741.7 310.2,741.5 C310.6,741.3 311.4,741.0 311.8,741.1 C312.2,741.2 313.1,741.8 313.5,742.0 C313.9,742.2 313.5,742.8 314.8,742.9 L356.3,742.9 C358.2,742.5 357.7,740.9 358.2,740.2 C358.7,739.6 359.7,738.2 360.3,737.9 C360.9,737.6 362.0,737.4 362.6,737.6 C363.2,737.8 364.3,738.9 364.9,739.5 C365.5,740.1 366.7,741.6 367.2,742.0 C367.7,742.4 367.2,742.8 368.8,742.9 L379.9,742.9 C381.7,742.9 379.9,742.9 382.3,742.9 L402.6,742.9 C404.9,742.5 404.3,740.5 404.9,739.5 C405.5,738.5 406.5,736.3 407.2,735.5 C407.9,734.7 409.3,734.0 410.0,733.5 C410.7,733.0 412.1,732.0 412.7,731.6 C413.3,731.2 414.4,730.6 415.0,730.7 C415.6,730.8 416.7,731.8 417.3,732.5 C417.9,733.2 419.1,735.2 419.7,736.2 C420.3,737.2 421.5,739.4 422.0,740.2 C422.5,741.0 423.1,742.4 423.8,742.7 C424.5,743.0 426.4,742.9 427.3,742.7 C428.2,742.5 429.9,741.8 430.7,741.3 C431.5,740.8 432.7,739.1 433.5,738.5 C434.3,737.9 435.8,736.8 436.5,736.7 C437.2,736.6 438.1,737.4 438.8,737.9 C439.5,738.4 441.0,739.7 441.8,740.2 C442.6,740.7 444.0,741.6 444.6,742.0 C445.2,742.4 445.3,742.8 446.4,742.9 L453.3,742.9 C454.4,742.6 454.7,741.4 455.2,740.8 C455.7,740.2 456.6,738.8 457.2,738.5 C457.8,738.2 458.9,738.2 459.5,738.3 C460.1,738.4 461.1,739.3 461.8,739.5 C462.5,739.7 464.0,739.6 464.8,739.5 C465.6,739.4 467.0,738.7 467.6,738.8 C468.2,738.9 469.0,739.7 469.5,740.2 C470.0,740.7 469.6,742.5 471.8,742.9 L486.5,742.9 C487.9,742.7 487.5,741.6 487.9,741.3 C488.3,741.0 488.9,740.3 489.3,740.4 C489.7,740.5 490.3,741.5 490.7,741.8 C491.1,742.1 490.7,742.8 492.0,742.9 L513.3,742.9 C516.0,742.6 515.4,741.1 516.0,740.6 C516.6,740.1 517.7,739.3 518.3,739.0 C518.9,738.7 520.1,738.8 520.6,738.3 C521.1,737.8 522.0,736.1 522.5,735.5 C523.0,734.9 524.2,733.6 524.8,733.5 C525.4,733.4 526.5,734.3 527.1,734.9 C527.7,735.6 528.7,737.5 529.2,738.5 C529.7,739.5 530.3,741.9 530.8,742.5 C531.3,743.1 533.0,742.8 533.3,742.9"/>
<path d="M86.9,777.8 L141.1,777.8 C143.4,777.7 142.8,777.0 143.4,776.8 C144.0,776.6 145.1,776.4 145.7,776.4 C146.3,776.4 147.4,776.9 148.0,777.1 C148.6,777.3 148.0,777.7 150.3,777.8 L175.7,777.8 C177.3,777.6 176.9,776.8 177.3,775.9 C177.7,775.0 178.6,772.4 179.1,770.8 C179.6,769.2 180.5,765.5 181.0,763.9 C181.5,762.3 182.3,759.4 182.8,758.4 C183.3,757.4 184.2,756.3 184.7,756.1 C185.2,755.9 186.0,756.0 186.5,756.6 C187.0,757.2 187.9,759.0 188.4,760.5 C188.9,762.0 189.8,766.6 190.2,768.5 C190.6,770.4 191.4,773.8 191.8,775.0 C192.2,776.2 192.9,777.5 193.4,777.8 C193.9,778.1 194.8,777.3 195.3,777.1 C195.8,776.9 196.6,776.2 197.1,776.2 C197.6,776.2 198.5,777.1 199.0,777.3 C199.5,777.5 200.3,778.0 200.8,777.8 C201.3,777.6 202.2,776.3 202.7,775.9 C203.2,775.5 204.4,774.6 205.0,774.5 C205.6,774.4 206.7,774.8 207.3,775.0 C207.9,775.2 208.9,776.1 209.6,776.4 C210.3,776.7 211.8,777.4 212.6,777.5 C213.4,777.6 215.1,777.1 216.0,777.1 C216.9,777.1 218.3,777.7 219.5,777.8 L225.2,777.8 C226.3,777.7 227.1,777.0 227.6,776.8 C228.1,776.6 229.1,776.6 229.4,776.6 C229.7,776.6 229.6,776.9 230.0,777.1 C230.4,777.3 231.7,777.9 232.8,778.0 L238.1,778.0 C239.1,777.7 239.8,776.1 240.4,775.5 C241.0,774.9 242.3,773.6 242.9,773.4 C243.5,773.2 244.6,774.0 245.2,774.3 C245.8,774.6 246.9,775.6 247.5,775.5 C248.1,775.4 249.2,774.3 249.8,773.8 C250.4,773.3 251.5,771.8 252.1,771.3 C252.7,770.8 253.8,770.2 254.4,770.2 C255.0,770.2 256.1,770.8 256.7,771.3 C257.3,771.8 258.4,773.6 259.0,774.1 C259.6,774.6 260.7,775.5 261.4,775.5 C262.1,775.5 263.7,774.3 264.6,774.1 C265.5,773.9 267.2,773.5 268.0,773.6 C268.8,773.7 270.2,774.1 271.0,774.5 C271.8,774.9 273.1,776.4 273.8,776.8 C274.5,777.2 275.8,777.3 276.6,777.3 C277.4,777.3 278.8,776.7 279.6,776.8 C280.4,776.9 281.6,777.8 282.6,778.0 L287.6,778.0 C288.6,777.9 289.7,777.1 290.4,777.1 C291.1,777.1 291.1,777.9 292.7,778.0 L302.6,778.0 C304.2,777.8 304.4,776.8 304.9,776.8 C305.4,776.8 305.7,777.8 306.8,778.0 L313.0,778.0 C314.0,777.8 314.3,776.5 314.8,776.2 C315.3,775.9 316.2,775.6 316.7,775.7 C317.2,775.8 318.0,777.0 318.5,777.3 C319.0,777.6 319.0,777.9 320.4,778.0 L329.1,778.0 C330.5,777.7 330.5,776.0 331.0,775.5 C331.5,775.0 332.7,774.0 333.3,773.8 C333.9,773.6 335.0,773.9 335.6,774.1 C336.2,774.3 337.3,775.4 337.9,775.7 C338.5,776.0 339.6,776.6 340.2,776.4 C340.8,776.2 341.9,774.7 342.5,774.3 C343.1,773.9 344.1,773.1 344.6,773.2 C345.1,773.3 346.2,774.4 346.7,774.8 C347.2,775.2 348.2,776.5 348.7,776.4 C349.2,776.3 350.1,775.2 350.6,774.3 C351.1,773.4 352.2,770.5 352.7,769.7 C353.2,768.9 354.2,768.2 354.7,768.1 C355.2,768.0 356.2,768.4 356.8,769.0 C357.4,769.6 358.5,771.6 359.1,772.7 C359.7,773.8 360.9,776.4 361.4,777.1 C361.9,777.8 362.5,777.9 363.3,778.0 C364.1,778.1 366.5,778.1 367.2,778.0 C367.9,777.9 368.6,777.1 369.0,777.1 C369.4,777.1 369.9,777.9 370.6,778.0 C371.3,778.1 373.4,778.2 374.1,778.0 C374.8,777.8 375.4,776.5 375.9,776.2 C376.4,775.9 377.5,775.4 378.0,775.5 C378.5,775.6 379.3,776.3 379.9,776.6 C380.5,776.9 382.0,778.0 382.8,778.0 C383.6,778.0 385.0,776.8 385.8,776.8 C386.6,776.8 387.9,777.9 388.8,778.0 C389.7,778.1 391.8,777.8 392.7,777.5 C393.6,777.2 395.0,775.9 395.7,775.5 C396.4,775.1 397.7,774.4 398.4,774.3 C399.1,774.2 400.6,774.8 401.2,775.0 C401.8,775.2 402.6,775.8 403.1,775.7 C403.6,775.6 404.8,774.6 405.4,774.3 C406.0,774.0 407.4,773.4 408.1,773.4 C408.8,773.4 410.0,774.1 410.7,774.5 C411.4,774.9 412.8,776.1 413.4,776.6 C414.0,777.1 414.2,777.8 415.7,778.0 L425.0,778.0 C426.5,777.9 426.7,777.4 427.3,777.3 C427.9,777.2 429.0,777.7 429.6,777.5 C430.2,777.3 431.3,775.9 431.9,775.9 C432.5,775.9 433.7,777.1 434.2,777.3 C434.7,777.5 435.6,778.1 436.0,777.8 C436.4,777.5 437.1,775.8 437.6,775.0 C438.1,774.2 439.0,772.0 439.5,771.3 C440.0,770.6 440.8,769.9 441.3,769.9 C441.8,769.9 442.7,770.6 443.2,771.3 C443.7,772.0 444.5,774.2 445.0,775.0 C445.5,775.8 446.8,777.5 447.3,777.8 C447.8,778.1 448.7,777.5 449.2,777.3 C449.7,777.1 450.5,776.1 451.0,775.9 C451.5,775.7 452.4,775.5 452.9,775.5 C453.4,775.5 454.1,775.9 454.7,776.2 C455.3,776.5 456.2,777.8 457.2,778.0 L462.5,778.0 C463.4,777.7 463.9,776.0 464.4,775.5 C464.9,775.0 466.1,774.0 466.7,773.8 C467.3,773.6 468.4,773.4 469.0,773.6 C469.6,773.8 470.7,774.5 471.3,775.0 C471.9,775.5 472.3,777.4 473.6,777.8 C474.9,778.2 480.1,778.2 481.4,778.0 C482.7,777.8 482.8,776.4 483.3,775.9 C483.8,775.4 485.0,774.5 485.6,774.3 C486.2,774.1 487.2,774.1 487.9,774.3 C488.6,774.5 490.0,775.4 490.7,775.7 C491.4,776.0 492.7,776.3 493.4,776.4 C494.1,776.5 495.7,776.2 496.4,776.4 C497.1,776.6 496.4,777.6 498.7,777.8 C502.8,778.0 523.1,778.0 527.6,778.0 C532.1,778.0 532.6,777.8 533.3,777.8"/>
<path d="M86.9,813.3 L153.8,813.3 C156.1,813.2 155.4,812.7 156.1,812.2 C156.8,811.7 158.1,810.3 158.8,809.7 C159.5,809.1 160.9,807.7 161.6,807.3 C162.3,806.9 163.3,806.7 163.9,806.7 C164.5,806.7 165.6,807.1 166.2,807.6 C166.8,808.1 167.9,809.7 168.5,810.3 C169.1,810.9 170.3,812.2 170.8,812.4 C171.3,812.6 172.2,812.5 172.7,812.2 C173.2,811.9 174.4,810.5 175.0,809.9 C175.6,809.3 176.6,807.8 177.3,807.3 C178.0,806.8 179.3,806.2 180.1,806.0 C180.9,805.8 182.5,806.0 183.3,806.0 C184.1,806.0 185.7,806.2 186.5,806.2 C187.3,806.2 188.7,805.9 189.5,806.0 C190.3,806.1 191.7,806.8 192.5,807.3 C193.3,807.8 194.6,809.2 195.3,809.9 C196.0,810.6 197.3,811.9 198.0,812.4 C198.7,812.9 199.6,813.5 200.3,813.6 C201.0,813.7 202.5,813.3 203.3,813.1 C204.1,812.9 205.5,812.0 206.3,812.0 C207.1,812.0 208.3,812.8 209.1,812.9 C209.9,813.0 211.7,812.4 212.6,812.4 C213.5,812.4 215.1,812.9 216.0,812.9 C216.9,812.9 218.7,812.5 219.5,812.6 C220.3,812.7 220.4,813.2 221.8,813.3 L229.9,813.3 L249.6,813.3 C251.9,813.1 251.3,812.0 251.9,811.7 C252.5,811.4 253.5,811.3 254.2,811.3 C254.9,811.3 256.4,811.7 257.2,812.0 C258.0,812.3 257.2,813.1 260.0,813.3 L371.8,813.3 C373.4,813.1 372.9,812.3 373.4,812.0 C373.9,811.7 375.0,811.3 375.5,811.3 C376.0,811.3 377.1,811.9 377.6,812.2 C378.1,812.5 378.8,813.2 379.4,813.3 C380.0,813.4 380.1,813.3 382.3,813.3 L396.6,813.3 C398.4,813.2 397.9,812.3 398.4,812.2 C398.9,812.1 399.6,812.1 400.1,812.2 C400.6,812.3 400.1,813.2 401.9,813.3 L446.4,813.3 C448.2,813.0 447.7,811.7 448.2,811.3 C448.7,810.9 449.8,810.1 450.3,809.9 C450.8,809.7 451.9,809.9 452.4,810.1 C452.9,810.3 453.7,811.3 454.2,811.7 C454.7,812.1 454.2,813.1 456.1,813.3 L473.4,813.3 C476.0,813.2 475.7,812.9 476.4,812.9 C477.1,812.9 476.4,813.2 479.1,813.3 L497.6,813.3 C499.9,813.2 499.3,812.9 499.9,812.9 C500.5,812.9 499.9,813.2 502.2,813.3 L527.6,813.3 C529.9,813.1 529.3,812.2 529.9,812.0 C530.5,811.8 531.7,811.5 532.2,811.5 C532.7,811.5 533.6,811.7 533.8,811.7"/>
</g>
<path d="M86.9,137.7 C87.5,137.8 90.3,138.2 91.5,138.1 C92.7,138.0 94.9,137.4 96.1,137.2 C97.3,137.0 99.5,136.6 100.7,136.7 C101.9,136.8 104.3,137.5 105.4,137.7 C106.5,137.9 107.6,138.1 108.8,138.1 C110.0,138.1 112.9,138.0 114.6,137.9 C116.3,137.8 120.0,137.8 121.5,137.7 C123.0,137.6 124.6,137.4 126.1,137.4 C127.6,137.4 131.2,137.7 133.0,137.7 C134.8,137.7 138.1,137.4 139.9,137.4 L146.9,137.4 C148.4,137.4 150.5,137.8 151.5,137.7 C152.5,137.6 153.9,136.8 154.9,136.3 C155.9,135.8 158.4,134.3 159.5,133.5 C160.6,132.7 162.2,131.1 163.0,130.5 C163.8,129.9 165.1,128.8 165.8,128.7 C166.5,128.6 167.5,129.7 168.1,130.1 C168.7,130.5 169.8,131.8 170.4,132.1 C171.0,132.4 172.2,132.7 172.7,132.6 C173.2,132.5 174.0,132.1 174.5,131.2 C175.0,130.3 176.0,127.3 176.8,125.4 C177.6,123.4 179.4,118.6 180.3,116.2 C181.2,113.8 182.9,109.4 183.7,107.0 C184.5,104.6 185.9,99.4 186.5,97.8 C187.1,96.2 187.9,95.3 188.4,94.8 C188.9,94.3 189.8,94.1 190.2,94.3 C190.6,94.5 191.3,95.2 191.8,96.6 C192.3,98.0 193.5,102.6 194.1,104.7 C194.7,106.8 195.8,111.2 196.4,112.8 C197.0,114.4 198.1,116.4 198.7,116.9 C199.3,117.4 200.4,117.1 201.0,116.7 C201.6,116.3 202.7,114.9 203.3,113.9 C203.9,112.9 205.1,109.6 205.6,108.8 C206.1,108.0 206.9,107.5 207.3,107.7 C207.7,107.9 208.2,109.5 208.6,110.5 C209.0,111.5 209.9,114.1 210.3,115.1 C210.7,116.1 211.3,117.9 211.9,118.5 C212.5,119.1 214.2,119.4 214.9,119.7 C215.6,120.0 216.5,120.2 217.2,120.8 C217.9,121.4 219.7,123.4 220.6,124.3 C221.5,125.2 223.2,127.0 224.1,127.8 C225.0,128.6 226.8,129.9 227.6,130.3 C228.4,130.7 229.4,130.9 230.0,130.7 C230.6,130.5 231.6,129.3 232.3,128.9 C233.0,128.5 234.4,127.4 235.1,127.3 C235.8,127.2 236.7,128.2 237.4,128.2 C238.1,128.2 239.6,127.5 240.4,127.5 C241.2,127.5 242.7,128.1 243.4,128.0 C244.1,127.9 245.3,127.0 246.1,127.1 C246.9,127.2 248.8,128.3 249.6,128.4 C250.4,128.5 251.1,127.9 251.9,128.0 C252.7,128.1 254.5,129.0 255.4,129.4 C256.3,129.8 258.1,130.5 258.8,130.7 C259.5,130.9 260.4,131.3 261.1,131.2 C261.8,131.1 263.4,130.8 264.1,130.3 C264.8,129.8 265.9,128.0 266.4,127.5 C266.9,127.0 267.8,126.4 268.3,126.4 C268.8,126.4 269.6,127.2 270.3,127.8 C271.0,128.4 272.9,130.5 273.8,131.2 C274.7,131.9 276.4,133.3 277.3,133.5 C278.2,133.7 279.7,132.7 280.7,132.6 C281.7,132.5 284.2,132.8 285.3,132.8 C286.4,132.8 288.6,132.3 289.5,132.4 C290.4,132.5 291.4,133.3 292.2,133.7 C293.0,134.1 294.9,135.0 295.7,135.4 C296.5,135.8 297.9,136.4 298.7,136.5 C299.5,136.6 301.1,136.2 301.9,135.8 C302.7,135.4 304.1,133.9 304.9,133.1 C305.7,132.3 307.1,130.2 307.9,129.4 C308.7,128.6 310.0,127.6 310.7,127.3 C311.4,127.0 312.7,127.1 313.5,127.3 C314.3,127.5 315.7,128.3 316.5,128.9 C317.3,129.5 318.9,131.4 319.9,131.9 C320.9,132.4 323.4,132.3 324.5,132.6 C325.6,132.9 326.9,134.1 328.0,134.4 C329.1,134.7 331.5,134.8 332.6,134.9 C333.7,135.0 335.2,135.2 336.1,135.4 C337.0,135.6 338.6,136.3 339.5,136.3 C340.4,136.3 342.1,135.4 343.0,135.1 C343.9,134.8 345.5,134.3 346.4,134.2 C347.3,134.1 349.1,134.3 349.9,134.0 C350.7,133.7 351.5,132.5 352.2,131.7 C352.9,130.9 354.8,128.8 355.6,128.2 C356.4,127.6 357.4,126.8 358.0,126.8 C358.6,126.8 359.7,127.3 360.3,128.0 C360.9,128.7 361.9,131.0 362.6,131.9 C363.3,132.8 365.1,134.1 366.0,134.7 C366.9,135.3 368.4,136.1 369.5,136.3 L374.1,136.3 C375.3,136.2 377.9,135.7 378.7,135.6 C379.5,135.5 379.2,135.9 380.0,135.8 C380.8,135.7 383.5,135.0 384.6,135.1 C385.7,135.2 387.2,136.1 388.1,136.3 C389.0,136.5 390.6,137.2 391.5,137.0 C392.4,136.8 394.1,135.1 395.0,134.7 C395.9,134.3 397.5,133.8 398.4,134.0 C399.3,134.2 401.0,136.5 401.9,136.3 C402.8,136.1 404.5,133.3 405.4,132.4 C406.3,131.5 407.9,130.1 408.8,129.6 C409.7,129.1 411.4,128.9 412.3,128.9 C413.2,128.9 414.8,128.9 415.7,129.4 C416.6,129.9 418.1,131.5 419.2,132.4 C420.3,133.3 422.6,135.9 423.8,136.3 C425.0,136.7 427.3,135.7 428.4,135.4 C429.5,135.1 431.0,134.5 431.9,134.0 C432.8,133.5 434.5,132.2 435.3,131.9 C436.1,131.6 437.3,132.2 438.1,131.9 C438.9,131.6 440.4,129.8 441.1,129.6 C441.8,129.4 442.6,129.8 443.4,130.5 C444.2,131.2 446.1,134.5 446.9,134.7 C447.7,134.9 448.6,132.6 449.2,131.9 C449.8,131.2 450.9,129.8 451.5,129.6 C452.1,129.4 453.1,130.2 453.8,130.7 C454.5,131.2 456.2,132.7 457.2,133.1 C458.2,133.5 460.6,133.6 461.8,133.5 C463.0,133.4 465.6,132.5 466.5,132.4 C467.4,132.3 468.1,132.7 468.8,133.1 C469.5,133.5 471.2,135.0 472.2,135.4 C473.2,135.8 475.4,136.2 476.8,136.3 L482.6,136.3 C483.8,136.1 485.2,135.2 486.1,134.7 C487.0,134.2 488.6,132.8 489.5,132.6 C490.4,132.4 492.2,133.3 493.0,133.5 C493.8,133.7 494.6,133.7 495.3,134.0 C496.0,134.3 497.5,135.7 498.7,135.8 C499.9,135.9 503.1,134.5 504.5,134.4 C505.9,134.3 507.9,134.9 509.1,135.1 C510.3,135.3 512.5,136.3 513.7,136.3 C514.9,136.3 517.2,135.6 518.3,135.1 C519.4,134.6 521.0,133.4 521.8,132.8 C522.6,132.2 524.0,130.6 524.8,130.5 C525.6,130.4 526.9,131.5 527.6,131.9 C528.3,132.3 529.2,133.3 529.9,133.7 C530.6,134.1 532.9,134.9 533.3,135.1" fill="none" stroke="#f00" stroke-width="1.18" stroke-linejoin="round" stroke-linecap="butt"/>
<g stroke="#000" stroke-width="1.3" fill="none">
<path d="M82.8,832.4 L82.8,142.5 L534.1,142.5"/>
<path d="M82.1,832.4 L534.9,832.4"/>
</g>
<rect x="533" y="141.85" width="2" height="691.1999999999999" fill="#747474"/>
<g stroke="#000" stroke-width="1.1" fill="none">
<path d="M86.5,832.4 v-7 M86.5,142.5 v7"/>
<path d="M176.3,832.4 v-7 M176.3,142.5 v7"/>
<path d="M266.1,832.4 v-7 M266.1,142.5 v7"/>
<path d="M355.9,832.4 v-7 M355.9,142.5 v7"/>
<path d="M445.8,832.4 v-7 M445.8,142.5 v7"/>
<path d="M82.8,830.6 h6.6 M534.1,830.6 h-7"/>
<path d="M82.8,742.9 h6.6 M534.1,742.9 h-7"/>
<path d="M82.8,654.3 h6.6 M534.1,654.3 h-7"/>
<path d="M82.8,566.1 h6.6 M534.1,566.1 h-7"/>
<path d="M82.8,478.0 h6.6 M534.1,478.0 h-7"/>
<path d="M82.8,389.8 h6.6 M534.1,389.8 h-7"/>
<path d="M82.8,301.6 h6.6 M534.1,301.6 h-7"/>
<path d="M82.8,213.5 h6.6 M534.1,213.5 h-7"/>
</g>
<g font-family="Liberation Sans, sans-serif" font-size="20.8" fill="#000">
<text x="75.1" y="856.3">50</text>
<rect x="63.7" y="850.5" width="10.5" height="1.5" fill="#000"/>
<text x="176.8" y="856.3" text-anchor="middle">0</text>
<text x="266.5" y="856.3" text-anchor="middle">50</text>
<text x="356.3" y="856.3" text-anchor="middle">100</text>
<text x="446.1" y="856.3" text-anchor="middle">150</text>
<text x="77.6" y="838.1" text-anchor="end">0</text>
<text x="77.6" y="750.0" text-anchor="end">50</text>
<text x="77.6" y="661.8" text-anchor="end">100</text>
<text x="77.6" y="573.6" text-anchor="end">150</text>
<text x="77.6" y="485.5" text-anchor="end">200</text>
<text x="77.6" y="397.3" text-anchor="end">250</text>
<text x="77.6" y="309.1" text-anchor="end">300</text>
<text x="77.6" y="221.0" text-anchor="end">350</text>
<text x="308.5" y="879.6" text-anchor="middle" font-size="20.95">Time relative to Pwave (sec)</text>
<text transform="translate(29.5,489) rotate(-90)" text-anchor="middle">Azimuth (deg)</text>
</g>
<text x="176.3" y="89.7" font-family="Liberation Sans, sans-serif" font-size="19.16" fill="#f00">stack of all azimuth bin stacks</text>
<g font-family="Liberation Serif, serif" fill="#000" xml:space="preserve">
<text x="51.1" y="17.8" font-size="17.36" xml:space="preserve">Azimuth binned P−coda stacks (dist=30−95*)  0.05to0.2Hz  BHZ</text>
<text x="51.1" y="38.3" font-size="17.36" xml:space="preserve">EAST OF SOUTH SANDWICH ISLANDS</text>
<text x="51.1" y="59.4" font-size="17.36" xml:space="preserve">2021/10/26  05:48:42  M6.0  Z=10.0km Lat=−58.3404 Lon=−14.8131</text>
<text x="548.1" y="145.5" font-size="20.9"># traces</text>
<text x="542.6" y="114.9" font-size="21" fill="#f00">24</text>
<text x="551.0" y="272" font-size="21">1</text>
<text x="551.0" y="289" font-size="21">3</text>
<text x="551.0" y="307" font-size="21">4</text>
<text x="551.0" y="325" font-size="21">3</text>
<text x="551.0" y="342" font-size="21">3</text>
<text x="551.0" y="360" font-size="21">1</text>
<text x="551.0" y="536" font-size="21">2</text>
<text x="551.0" y="730" font-size="21">4</text>
<text x="551.0" y="748" font-size="21">1</text>
<text x="551.0" y="783" font-size="21">1</text>
<text x="551.0" y="819" font-size="21">1</text>
</g>
<g>
<path d="M597.30,864.70 L595.20,865.75 L596.74,867.53 L594.39,867.70 L595.13,869.93 L592.90,869.19 L592.73,871.54 L590.95,870.00 L589.90,872.10 L588.85,870.00 L587.07,871.54 L586.90,869.19 L584.67,869.93 L585.41,867.70 L583.06,867.53 L584.60,865.75 L582.50,864.70 L584.60,863.65 L583.06,861.87 L585.41,861.70 L584.67,859.47 L586.90,860.21 L587.07,857.86 L588.85,859.40 L589.90,857.30 L590.95,859.40 L592.73,857.86 L592.90,860.21 L595.13,859.47 L594.39,861.70 L596.74,861.87 L595.20,863.65Z" fill="#e6b437"/>
<circle cx="589.9" cy="864.7" r="5.2" fill="#1f4fa8"/>
<circle cx="589.3" cy="864.2" r="2.6" fill="#8fb0e0" opacity="0.8"/>
<path d="M598.7,857.1 V872.2" stroke="#555" stroke-width="0.6"/>
<text x="600.2" y="867.2" font-family="Liberation Sans, sans-serif" font-weight="bold" font-size="6.6" fill="#46653a" textLength="15.7" lengthAdjust="spacingAndGlyphs">SAGE</text>
<text x="617.9" y="867.2" font-family="Liberation Serif, serif" font-size="6.6" fill="#7a6aa8" textLength="10.2" lengthAdjust="spacingAndGlyphs">IRIS</text>
<rect x="600.4" y="868.6" width="9" height="1.2" fill="#a9bd9a" opacity="0.7"/>
<rect x="611" y="868.6" width="4.5" height="1.2" fill="#a9bd9a" opacity="0.7"/>
</g>
</svg>
</body></html>
